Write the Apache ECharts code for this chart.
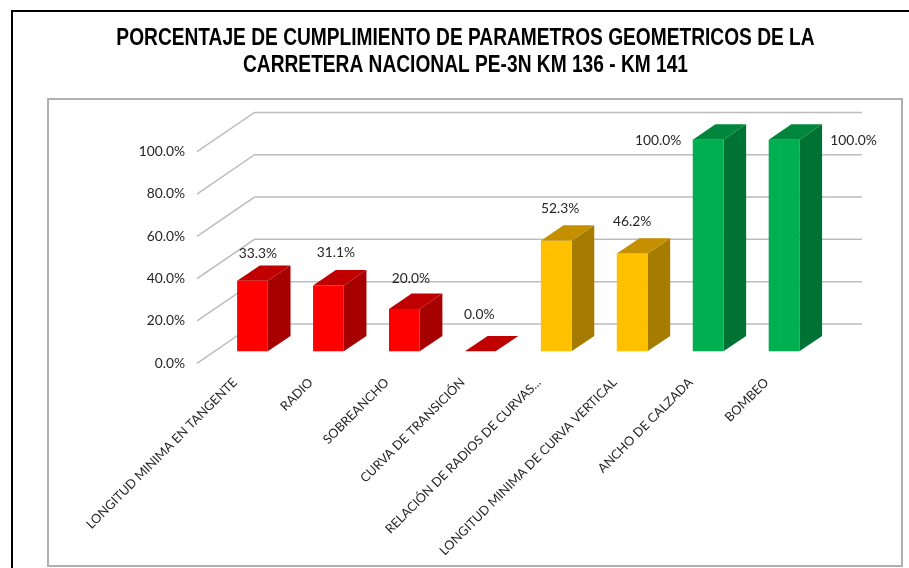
<!DOCTYPE html>
<html>
<head>
<meta charset="utf-8">
<style>html,body{margin:0;padding:0;background:#fff}#chart{width:909px;height:568px}</style>
<script src="https://cdn.jsdelivr.net/npm/echarts@6/dist/echarts.min.js"></script>
</head>
<body>
<div id="chart"></div>
<script>
const categories = [
  'LONGITUD MINIMA EN TANGENTE', 'RADIO', 'SOBREANCHO', 'CURVA DE TRANSICIÓN',
  'RELACIÓN DE RADIOS DE CURVAS...', 'LONGITUD MINIMA DE CURVA VERTICAL', 'ANCHO DE CALZADA', 'BOMBEO'
]
const values = [33.3, 31.1, 20.0, 0.0, 52.3, 46.2, 100.0, 100.0]
const ticks = [0, 20, 40, 60, 80, 100]
const titleText = 'PORCENTAJE DE CUMPLIMIENTO DE PARAMETROS GEOMETRICOS DE LA\nCARRETERA NACIONAL PE-3N KM 136 - KM 141'

// [front, side, top]
const red = ['#ff0000', '#a60000', '#c00000']
const amber = ['#ffc000', '#a67c00', '#c49000']
const green = ['#00b050', '#007233', '#00873d']
const barColors = [red, red, red, red, amber, amber, green, green]

// hand placed labels in the original, offset from the bar's top front centre
const labelNudge = [[5.5, -28], [7.5, -33.5], [6.5, -31.5], [-1, -37], [4, -33], [0, -33], [-50, 0], [69.5, 0]]

const wallDx = 57.5
const wallDy = -39.3
const barPlaneDx = 17.5
const barPlaneDy = -12
const barDepthDx = 22.7
const barDepthDy = -15.4
const barWidth = 30.7

const poly = (points, color) => ({
  type: 'polygon',
  shape: { points },
  style: { fill: color }
})

const renderGrid = (params, api) => {
  const y = api.coord([0, api.value(0)])[1]
  const x0 = params.coordSys.x
  const x1 = x0 + params.coordSys.width
  return {
    type: 'polyline',
    shape: { points: [[x0, y], [x0 + wallDx, y + wallDy], [x1 + wallDx, y + wallDy]] },
    style: { stroke: '#bdbdbd', lineWidth: 1.5, fill: null }
  }
}

const renderBar = (params, api) => {
  const i = params.dataIndex
  const top = api.coord([i, api.value(1)])
  const base = api.coord([i, 0])
  const xl = top[0] - barWidth / 2 + barPlaneDx
  const xr = xl + barWidth
  const yt = top[1] + barPlaneDy
  const yb = base[1] + barPlaneDy
  const c = barColors[i]
  const children = []
  if (yb - yt > 0) {
    children.push(poly([[xr, yb], [xr + barDepthDx, yb + barDepthDy], [xr + barDepthDx, yt + barDepthDy], [xr, yt]], c[1]))
    children.push(poly([[xl, yb], [xr, yb], [xr, yt], [xl, yt]], c[0]))
  }
  children.push(poly([[xl, yt], [xr, yt], [xr + barDepthDx, yt + barDepthDy], [xl + barDepthDx, yt + barDepthDy]], c[2]))
  children.push({
    type: 'text',
    style: {
      text: values[i].toFixed(1) + '%',
      x: (xl + xr) / 2 + labelNudge[i][0],
      y: yt + labelNudge[i][1] + 0.7,
      align: 'center',
      verticalAlign: 'middle',
      font: '13.8px Lato',
      fill: '#262626'
    }
  })
  return { type: 'group', children }
}

const chart = echarts.init(document.getElementById('chart'))
chart.setOption({
  animation: false,
  backgroundColor: '#fff',
  graphic: [
    { type: 'polyline', silent: true, shape: { points: [[12, 568], [12, 11], [909, 11]] }, style: { stroke: '#000', lineWidth: 2, fill: null } },
    { type: 'rect', silent: true, z: -1, shape: { x: 48, y: 99, width: 854, height: 467 }, style: { stroke: '#b0b0b0', lineWidth: 2, fill: '#fff' } },
    {
      type: 'text',
      silent: true,
      x: 465.5,
      y: 25,
      scaleX: 0.833,
      style: { text: titleText, align: 'center', font: 'bold 23px "Liberation Sans"', lineHeight: 27, fill: '#000' }
    }
  ],
  grid: { left: 197, right: 104.5, top: 151.7, height: 211.6 },
  xAxis: {
    type: 'category',
    data: categories,
    axisLine: { show: false },
    axisTick: { show: false },
    axisLabel: { interval: 0, rotate: 45, margin: 17, fontFamily: 'Lato', fontSize: 12.7, color: '#262626' }
  },
  yAxis: {
    type: 'value',
    min: 0,
    max: 100,
    interval: 20,
    axisLine: { show: false },
    axisTick: { show: false },
    splitLine: { show: false },
    axisLabel: { margin: 12, fontFamily: 'Lato', fontSize: 13.8, color: '#262626', formatter: v => v.toFixed(1) + '%' }
  },
  series: [
    {
      type: 'custom',
      name: 'grid',
      silent: true,
      clip: false,
      renderItem: renderGrid,
      encode: { y: 0 },
      data: ticks.map(t => [t])
    },
    {
      type: 'custom',
      name: 'cumplimiento',
      clip: false,
      renderItem: renderBar,
      encode: { x: 0, y: 1 },
      data: values.map((v, i) => [i, v])
    }
  ]
})
</script>
</body>
</html>
